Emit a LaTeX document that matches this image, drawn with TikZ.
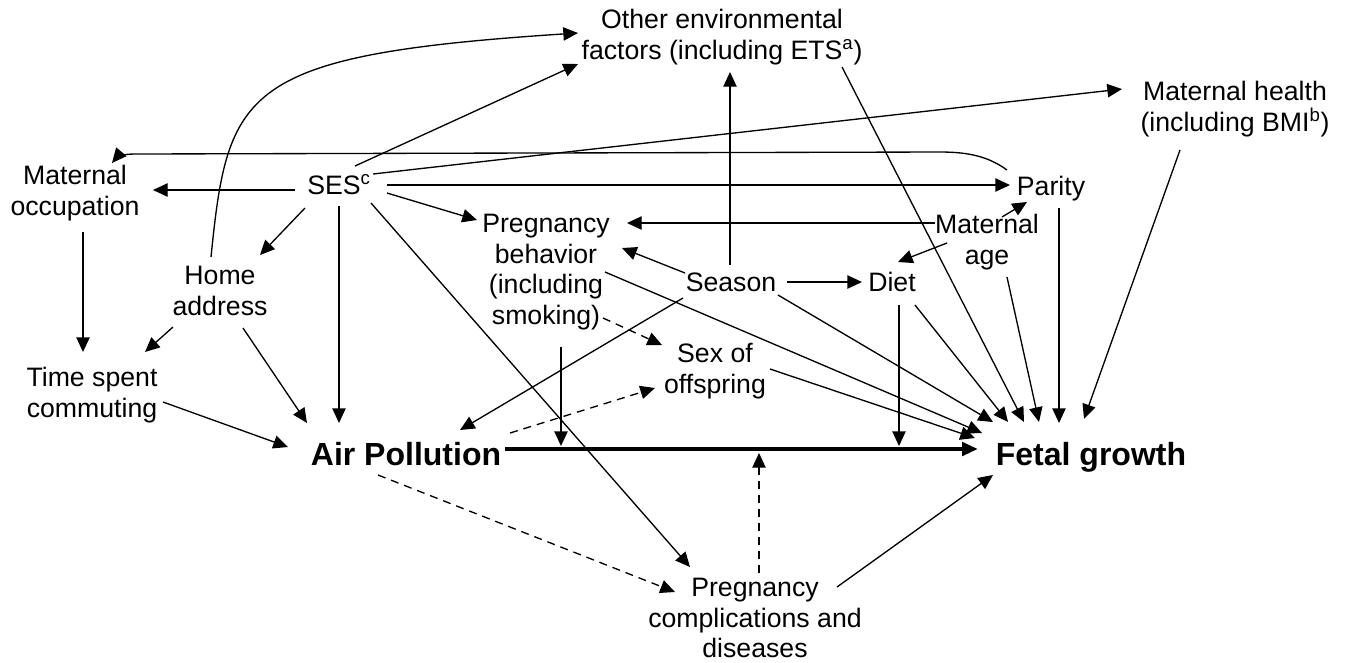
\documentclass[tikz,border=0pt]{standalone}
\usepackage{fontspec}
\setmainfont{Liberation Sans}
\usetikzlibrary{arrows.meta,calc}

\begin{document}
\begin{tikzpicture}[
    x=0.75pt, y=0.75pt,
    var/.style={align=center, inner sep=0pt, font=\fontsize{20}{23}\selectfont},
    main/.style={align=center, inner sep=0pt, font=\fontsize{24}{28}\selectfont\bfseries},
    arrow/.style={-{Triangle[length=11pt,width=10pt]}, line width=1pt},
    dasharrow/.style={arrow, dash pattern=on 6pt off 4.5pt},
    thickarrow/.style={-{Triangle[length=12pt,width=10pt]}, line width=3pt}
]
\useasboundingbox (0,0) rectangle (1346,-662);

% Exposure and outcome
\node[main] (air) at (406,-454) {Air Pollution};
\node[main] (fetal) at (1091,-457) {Fetal growth};

% Other variables
\node[var] (env) at (722,-37) {Other environmental\\factors (including ETS\textsuperscript{a})};
\node[var] (health) at (1235,-109) {Maternal health\\(including BMI\textsuperscript{b})};
\node[var] (occ) at (75,-193) {Maternal\\occupation};
\node[var] (ses) at (339,-185) {SES\textsuperscript{c}};
\node[var] (parity) at (1051,-189) {Parity};
\node[var] (age) at (987,-242) {Maternal\\age};
\node[var] (behav) at (546,-272) {Pregnancy\\behavior\\(including\\smoking)};
\node[var] (season) at (731,-282) {Season};
\node[var] (diet) at (892,-282) {Diet};
\node[var] (home) at (220,-291) {Home\\address};
\node[var] (commute) at (92,-395) {Time spent\\commuting};
\node[var] (sex) at (715,-371) {Sex of\\offspring};
\node[var] (compl) at (755,-618) {Pregnancy\\complications and\\diseases};

% Points on the main arrow
\coordinate (onmain1) at (561,-446);
\coordinate (onmain2) at (899,-446);
\coordinate (onmain3) at (759,-453);

% SES
\draw[arrow] ($(ses)+(16,19)$) -- ($(env)+(-144,-27)$);
\draw[arrow] ($(ses)+(34,11)$) -- ($(health)+(-113,20)$);
\draw[arrow] ($(ses)+(-44,-5)$) -- ($(occ)+(78,3)$);
\draw[arrow] ($(ses)+(48,0)$) -- ($(parity)+(-41,4)$);
\draw[arrow] ($(ses)+(48,-8)$) -- ($(behav)+(-69,52)$);
\draw[arrow] ($(ses)+(-34,-23)$) -- ($(home)+(40,36)$);
\draw[arrow] ($(ses)+(0,-21)$) -- ($(air)+(-67,31)$);
\draw[arrow] ($(ses)+(32,-18)$) -- ($(compl)+(-65,51)$);

% Parity back to occupation
\draw[arrow] ($(parity)+(-44,19)$) .. controls +(-18,13) and +(30,0) .. (940,-152)
    -- (135,-154) .. controls +(-12,0) and +(5,6) .. ($(occ)+(37,30)$);

% Home address and commuting
\draw[arrow] ($(home)+(-9,34)$) .. controls +(17,167) and +(-338,-22) .. ($(env)+(-144,4)$);
\draw[arrow] ($(occ)+(8,-39)$) -- ($(commute)+(-9,43)$);
\draw[arrow] ($(home)+(-47,-36)$) -- ($(commute)+(53,43)$);
\draw[arrow] ($(home)+(23,-37)$) -- ($(air)+(-99,31)$);
\draw[arrow] ($(commute)+(71,-7)$) -- ($(air)+(-118,7)$);

% Season and maternal age
\draw[arrow] ($(season)+(-1,17)$) -- ($(env)+(8,-35)$);
\draw[arrow] ($(age)+(-52,19)$) -- ($(behav)+(81,49)$);
\draw[arrow] ($(age)+(15,25)$) -- ($(parity)+(-24,-13)$);
\draw[arrow] ($(age)+(-40,-1)$) -- ($(diet)+(6,20)$);
\draw[arrow] ($(season)+(56,0)$) -- ($(diet)+(-30,0)$);
\draw[arrow] ($(season)+(-46,9)$) -- ($(behav)+(76,24)$);
\draw[arrow] ($(season)+(-48,-16)$) -- ($(air)+(54,24)$);

% Into fetal growth
\draw[arrow] ($(behav)+(59,0)$) -- ($(fetal)+(-109,24)$);
\draw[arrow] ($(season)+(47,-13)$) -- ($(fetal)+(-98,35)$);
\draw[arrow] ($(diet)+(23,-23)$) -- ($(fetal)+(-83,35)$);
\draw[arrow] ($(env)+(120,-30)$) -- ($(fetal)+(-67,35)$);
\draw[arrow] ($(age)+(20,-35)$) -- ($(fetal)+(-52,35)$);
\draw[arrow] ($(parity)+(8,-19)$) -- ($(fetal)+(-32,34)$);
\draw[arrow] ($(health)+(-55,-41)$) -- ($(fetal)+(-7,38)$);
\draw[arrow] ($(sex)+(55,2)$) -- ($(fetal)+(-116,19)$);
\draw[arrow] ($(compl)+(82,31)$) -- ($(fetal)+(-98,-18)$);

% Sex of offspring and complications
\draw[dasharrow] ($(behav)+(57,-46)$) -- ($(sex)+(-53,26)$);
\draw[dasharrow] ($(air)+(104,21)$) -- ($(sex)+(-60,-17)$);
\draw[dasharrow] ($(air)+(-28,-21)$) -- ($(compl)+(-80,26)$);

% Main effect and modifiers
\draw[thickarrow] ($(air)+(99,5)$) -- ($(fetal)+(-113,8)$);
\draw[arrow] ($(behav)+(15,-75)$) -- (onmain1);
\draw[arrow] ($(diet)+(7,-23)$) -- (onmain2);
\draw[dasharrow] ($(compl)+(4,45)$) -- (onmain3);

\end{tikzpicture}
\end{document}
